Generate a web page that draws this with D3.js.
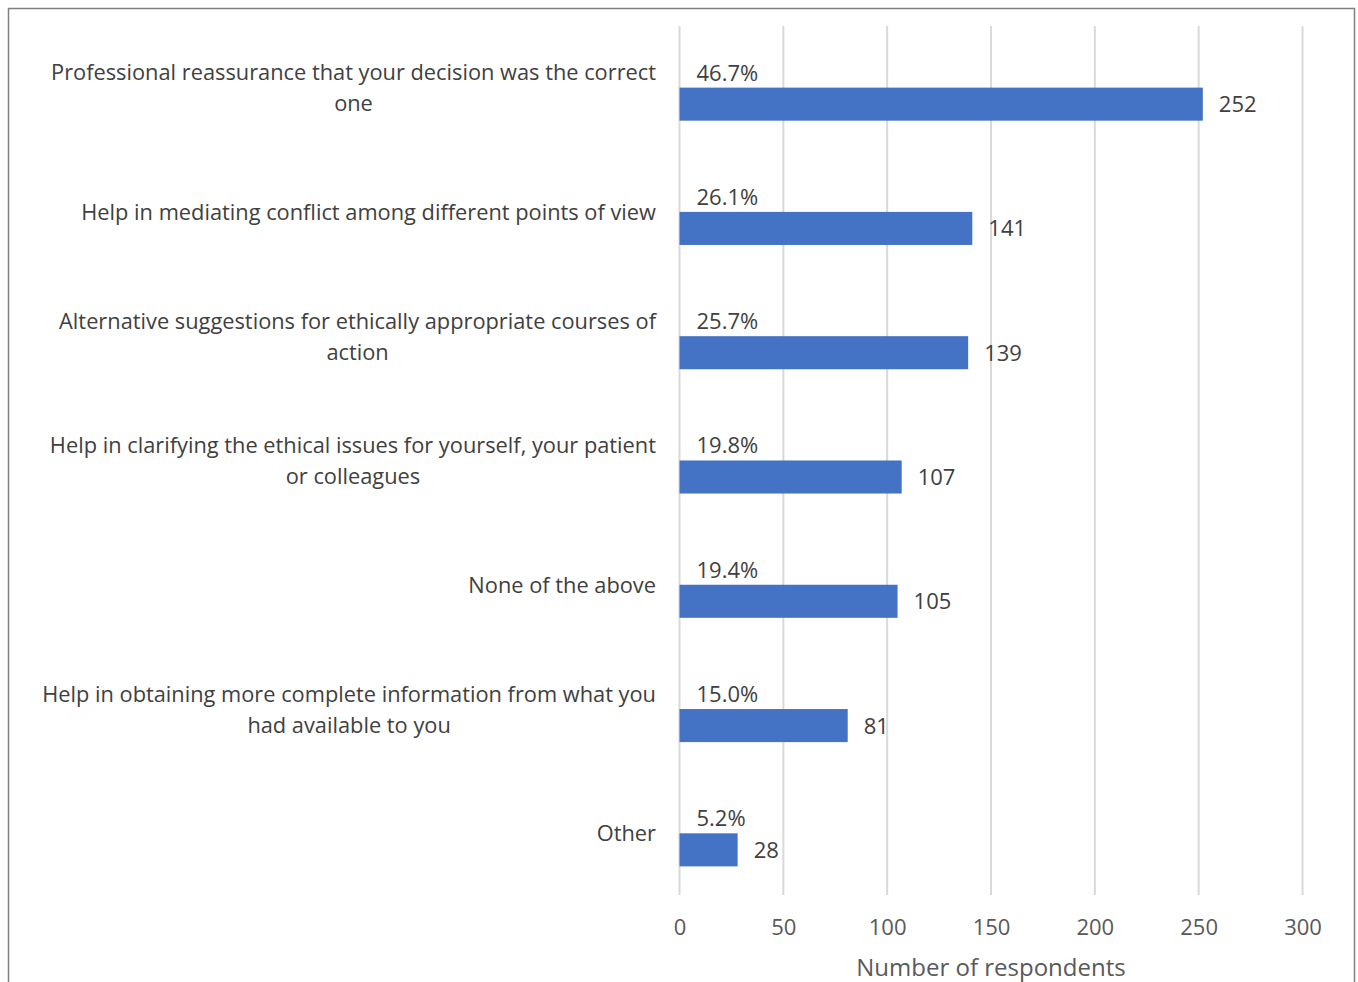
<!DOCTYPE html>
<html>
<head>
<meta charset="utf-8">
<script src="https://cdn.jsdelivr.net/npm/d3@7"></script>
<style>
  html, body { margin: 0; padding: 0; background: #fff; }
  svg { display: block; }
  text { font-family: "Open Sans", "Noto Sans", sans-serif; }
</style>
</head>
<body>
<svg id="chart" width="1358" height="982"></svg>
<script>
// Survey responses: what respondents want from ethics support (top to bottom)
const categories = [
  "Professional reassurance that your decision was the correct\none",
  "Help in mediating conflict among different points of view",
  "Alternative suggestions for ethically appropriate courses of\naction",
  "Help in clarifying the ethical issues for yourself, your patient\nor colleagues",
  "None of the above",
  "Help in obtaining more complete information from what you\nhad available to you",
  "Other"
];
const respondents = [252, 141, 139, 107, 105, 81, 28];
const percentLabels = ["46.7%", "26.1%", "25.7%", "19.8%", "19.4%", "15.0%", "5.2%"];
const xTicks = [0, 50, 100, 150, 200, 250, 300];
const xTitle = "Number of respondents";

const svg = d3.select("#chart");

// outer frame
svg.append("rect")
  .attr("x", 8.5).attr("y", 8.5)
  .attr("width", 1346).attr("height", 1000)
  .attr("fill", "none").attr("stroke", "#808080").attr("stroke-width", 1.5);

const x = d3.scaleLinear().domain([0, 300]).range([679.5, 1302.5]);
const y = d3.scaleBand().domain(d3.range(categories.length))
  .range([42, 912]).paddingInner(0.734).paddingOuter(0.367);

const gridTop = 26, gridBottom = 895;

// vertical gridlines
svg.append("g").selectAll("line").data(xTicks).join("line")
  .attr("x1", d => x(d)).attr("x2", d => x(d))
  .attr("y1", gridTop).attr("y2", gridBottom)
  .attr("stroke", "#d9d9d9").attr("stroke-width", 2);

// x axis tick labels
const xAxis = d3.axisBottom(x).tickValues(xTicks).tickSize(0).tickPadding(0);
const gx = svg.append("g").attr("transform", `translate(0,${gridBottom})`).call(xAxis);
gx.select(".domain").remove();
gx.selectAll("text")
  .attr("y", 40).attr("dy", null)
  .attr("font-size", 22).attr("fill", "#595959")
  .style("font-family", "'Open Sans', sans-serif");

svg.append("text")
  .attr("x", (x(0) + x(300)) / 2).attr("y", 976)
  .attr("text-anchor", "middle").attr("font-size", 24).attr("fill", "#595959")
  .text(xTitle);

// bars
const rows = svg.append("g").selectAll("g").data(respondents).join("g");
rows.append("rect")
  .attr("x", x(0))
  .attr("y", (d, i) => y(i))
  .attr("width", d => x(d) - x(0))
  .attr("height", y.bandwidth())
  .attr("fill", "#4472C4");

// value labels to the right of each bar
rows.append("text")
  .attr("x", d => x(d) + 16)
  .attr("y", (d, i) => y(i) + y.bandwidth() / 2 + 8)
  .attr("font-size", 22).attr("fill", "#404040")
  .text(d => d);

// percentage labels above each bar
rows.append("text")
  .attr("x", x(0) + 17)
  .attr("y", (d, i) => y(i) - 7)
  .attr("font-size", 22).attr("fill", "#404040")
  .text((d, i) => percentLabels[i]);

// category labels: block right-aligned, lines centred within the block
const labelRight = 656, lineH = 31;
const labelG = svg.append("g");
categories.forEach((c, i) => {
  const lines = c.split("\n");
  const cy = y(i) + y.bandwidth() / 2 - 16;
  const t = labelG.append("text")
    .attr("font-size", 21.8).attr("fill", "#404040")
    .attr("text-anchor", "middle");
  lines.forEach((ln, k) => {
    t.append("tspan")
      .attr("y", cy - (lines.length - 1) * lineH / 2 + k * lineH + 7.5)
      .text(ln);
  });
  // width of the widest line sets the block's centre
  const w = d3.max(t.selectAll("tspan").nodes(), n => n.getComputedTextLength());
  t.selectAll("tspan").attr("x", labelRight - w / 2);
});
</script>
</body>
</html>
